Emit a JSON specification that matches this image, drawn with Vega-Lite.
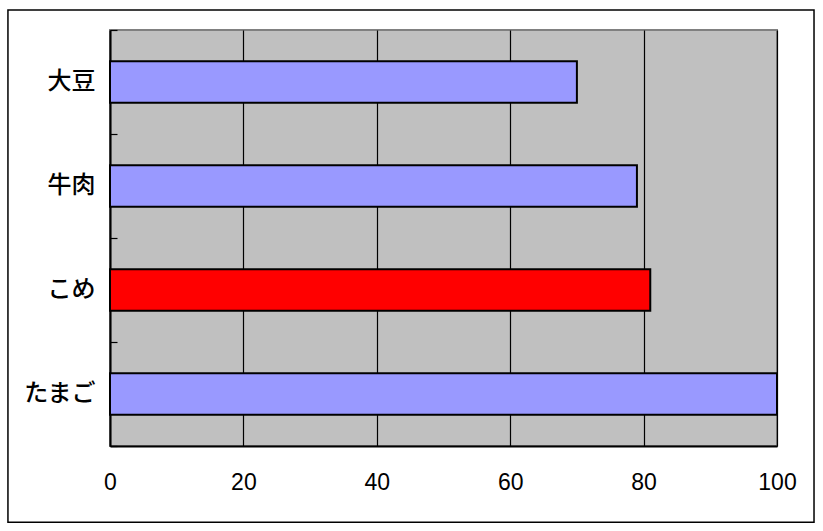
{
  "$schema": "https://vega.github.io/schema/vega-lite/v6.json",
  "width": 667,
  "height": 416,
  "autosize": {"type": "none"},
  "padding": {"left": 110, "top": 30, "right": 46, "bottom": 85},
  "background": "#FFFFFF",
  "config": {
    "view": {"fill": "#C0C0C0", "stroke": "#808080", "strokeWidth": 2}
  },
  "datasets": {
    "foods": [
      {"food": "大豆", "value": 70, "group": "other"},
      {"food": "牛肉", "value": 79, "group": "other"},
      {"food": "こめ", "value": 81, "group": "highlight"},
      {"food": "たまご", "value": 100, "group": "other"}
    ]
  },
  "layer": [
    {
      "data": {"values": [{"x": -15.3, "x2": 105.55, "y": -18.3, "y2": 104.8}]},
      "mark": {"type": "rect", "fill": null, "stroke": "#000000", "strokeWidth": 1.5, "clip": false},
      "encoding": {
        "x": {"field": "x", "type": "quantitative", "scale": {"domain": [0, 100], "nice": false}},
        "x2": {"field": "x2"},
        "y": {"field": "y", "type": "quantitative", "scale": {"domain": [0, 100], "nice": false}, "axis": null},
        "y2": {"field": "y2"}
      }
    },
    {
      "data": {"name": "foods"},
      "mark": {"type": "bar", "opacity": 0},
      "encoding": {
        "x": {"field": "value", "type": "quantitative", "scale": {"domain": [0, 100], "nice": false}},
        "y": {
          "field": "food",
          "type": "nominal",
          "sort": null,
          "scale": {"paddingInner": 0, "paddingOuter": 0},
          "axis": {
            "orient": "right",
            "offset": -667,
            "title": null,
            "labels": false,
            "domain": false,
            "grid": false,
            "ticks": true,
            "tickBand": "extent",
            "tickSize": 7,
            "tickColor": "#000000",
            "tickWidth": 1.2
          }
        }
      }
    },
    {
      "data": {"name": "foods"},
      "mark": {"type": "bar", "stroke": "#000000", "strokeWidth": 2},
      "encoding": {
        "y": {
          "field": "food",
          "type": "nominal",
          "sort": null,
          "scale": {"paddingInner": 0.6, "paddingOuter": 0.3},
          "axis": {
            "orient": "left",
            "title": null,
            "ticks": false,
            "domainColor": "#000000",
            "domainWidth": 2,
            "labelFont": "Noto Sans CJK JP",
            "labelFontSize": 24,
            "labelFontWeight": 500,
            "labelColor": "#000000",
            "labelPadding": 15,
            "grid": false
          }
        },
        "x": {
          "field": "value",
          "type": "quantitative",
          "scale": {"domain": [0, 100], "nice": false},
          "axis": {
            "title": null,
            "values": [0, 20, 40, 60, 80, 100],
            "ticks": false,
            "grid": true,
            "gridColor": "#000000",
            "gridWidth": 1.2,
            "gridOpacity": 1,
            "domainColor": "#000000",
            "domainWidth": 2,
            "labelFont": "Liberation Sans",
            "labelFontSize": 23,
            "labelColor": "#000000",
            "labelPadding": 25,
            "labelFlush": false
          }
        },
        "color": {
          "field": "group",
          "type": "nominal",
          "scale": {"domain": ["other", "highlight"], "range": ["#9999FF", "#FF0000"]},
          "legend": null
        }
      }
    }
  ],
  "resolve": {"scale": {"y": "independent"}}
}
